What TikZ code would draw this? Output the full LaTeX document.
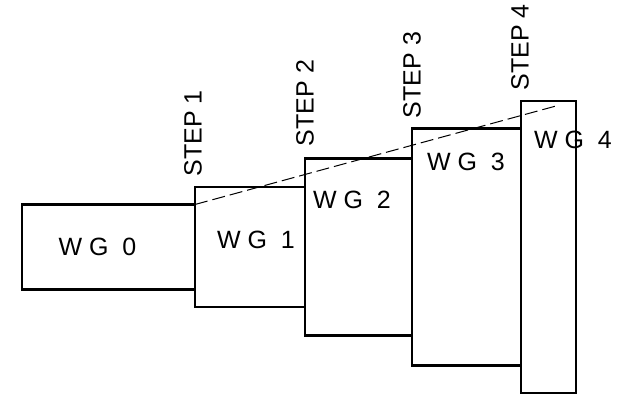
\documentclass[tikz,border=0pt]{standalone}
\usepackage{fontspec}
\setmainfont{Liberation Sans}
\usetikzlibrary{positioning}

\begin{document}
\begin{tikzpicture}[
    wgbox/.style={draw, line width=1.4pt, rectangle, outer sep=0pt, inner sep=0pt},
    wgtext/.style={font=\fontsize{12.5}{14}\selectfont, inner sep=0pt},
    steptext/.style={font=\fontsize{12.5}{14}\selectfont, inner sep=0pt, rotate=90, anchor=west}]
            \useasboundingbox (0,0) rectangle (310pt,197.5pt);

            % Waveguide sections
            \node[wgbox, minimum width=86.5pt, minimum height=42.5pt, anchor=west] (wg0) at (11pt,74pt) {};
            \node[wgbox, minimum width=55pt, minimum height=60pt, right=0pt of wg0] (wg1) {};
            \node[wgbox, minimum width=53.5pt, minimum height=88.5pt, right=0pt of wg1] (wg2) {};
            \node[wgbox, minimum width=54.5pt, minimum height=118.5pt, right=0pt of wg2] (wg3) {};
            \node[wgbox, minimum width=27.5pt, minimum height=146pt, right=0pt of wg3] (wg4) {};

            % Section names
            \node[wgtext] (lbl0) at (48.75pt,74pt) {W G~~0};
            \node[wgtext] (lbl1) at (128pt,77.5pt) {W G~~1};
            \node[wgtext] (lbl2) at (176pt,97.5pt) {W G~~2};
            \node[wgtext] (lbl3) at (233pt,116.5pt) {W G~~3};
            \node[wgtext] (lbl4) at (286.5pt,127.5pt) {W G~~4};

            % Step labels
            \node[steptext] (step1) at ([xshift=-1pt,yshift=5pt]wg1.north west) {STEP 1};
            \node[steptext] (step2) at ([xshift=0pt,yshift=6pt]wg2.north west) {STEP 2};
            \node[steptext] (step3) at ([xshift=0pt,yshift=5pt]wg3.north west) {STEP 3};
            \node[steptext] (step4) at ([xshift=-0.5pt,yshift=5pt]wg4.north west) {STEP 4};

            % Taper line
            \coordinate (taperend) at ([xshift=-10pt,yshift=-2.5pt]wg4.north east);
            \draw[line width=0.5pt, dash pattern=on 6.5pt off 2.5pt] (wg0.north east) -- (taperend);
        \end{tikzpicture}
\end{document}
